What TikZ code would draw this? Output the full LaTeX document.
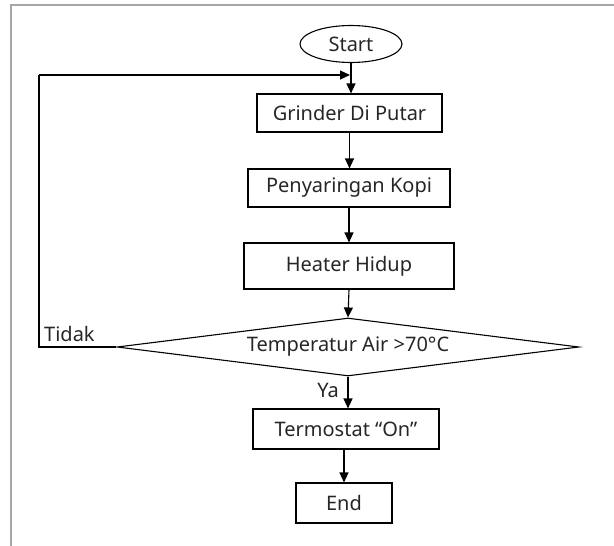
\documentclass[tikz,border=0pt]{standalone}
\usepackage{fontspec}
\setmainfont{Noto Sans}
\usetikzlibrary{shapes.geometric,arrows.meta}
\begin{document}
\begin{tikzpicture}[x=1pt,y=-1pt,
  every node/.style={font=\fontsize{20}{24}\selectfont, inner sep=0pt, text=black!85},
  proc/.style={draw=black, line width=1.1pt, rectangle, anchor=center},
  flow/.style={line width=1.1pt, -{Triangle[length=10pt,width=9pt]}},
  plain/.style={line width=1.1pt}]
\useasboundingbox (0,0) rectangle (614,546);
\draw[line width=1.5pt, color={rgb,255:red,166;green,166;blue,166}] (614,5) -- (11,5) -- (11,546);

\node[draw=black, ellipse, line width=1.1pt, minimum width=102pt, minimum height=37pt] (start) at (351,44) {Start};
\node[proc, minimum width=185pt, minimum height=38pt] (grinder) at (349.5,113) {Grinder Di Putar};
\node[proc, minimum width=202pt, minimum height=38pt] (saring) at (349,188) {Penyaringan Kopi};
\node[proc, minimum width=210pt, minimum height=46pt] (heater) at (349,266) {Heater Hidup};
\node[draw=black, diamond, line width=1.1pt, minimum width=462pt, minimum height=58pt, aspect=8] (cek) at (348,347) {Temperatur Air >70°C};
\node[proc, minimum width=186pt, minimum height=40pt] (termo) at (346,429) {Termostat “On”};
\node[proc, minimum width=96pt, minimum height=40pt] (end) at (344,503) {End};

\coordinate (loopL) at (39,347);
\coordinate (loopTL) at (39,75);
\coordinate (merge) at (350,75);

\draw[flow] (start.south) -- (start.south |- grinder.north);
\draw[flow] (grinder.south) -- (grinder.south |- saring.north);
\draw[flow] (saring.south) -- (saring.south |- heater.north);
\draw[flow] (heater.south) -- (cek.north);
\draw[flow] (cek.south) -- (cek.south |- termo.north);
\draw[flow] (termo.south -| end.north) -- (end.north);
\draw[plain] (cek.west) -- (loopL) -- (loopTL);
\draw[flow] (loopTL) -- (merge);

\node[anchor=base west] (tidak) at (44,341) {Tidak};
\node[anchor=east] (ya) at (339,390) {Ya};
\end{tikzpicture}
\end{document}
